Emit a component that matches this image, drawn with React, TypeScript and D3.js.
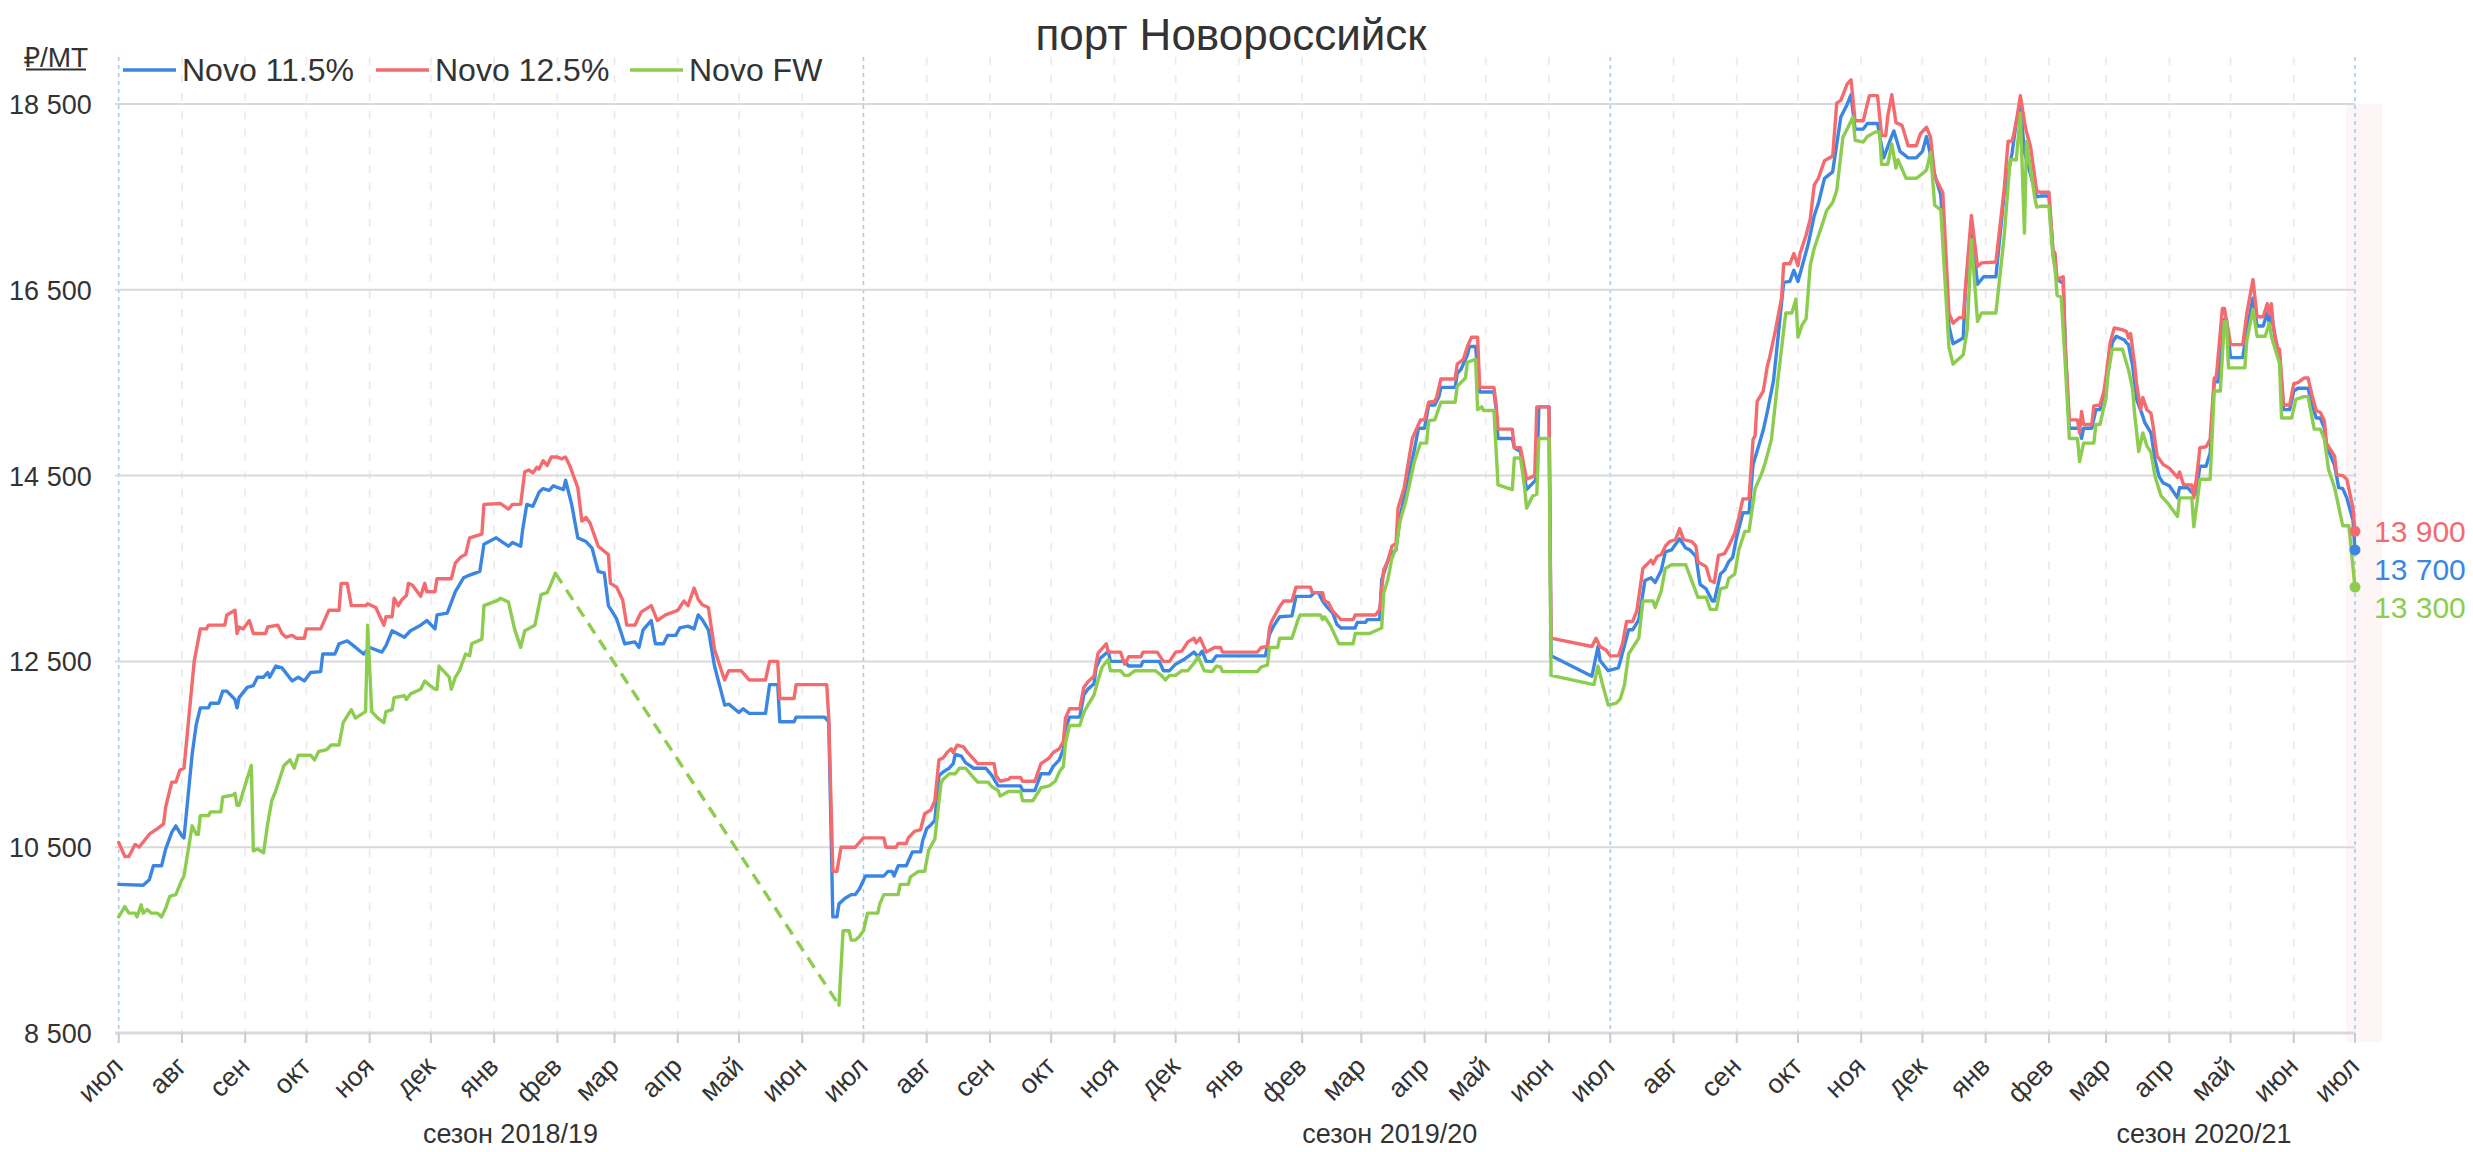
import React from "react";
import * as d3 from "d3";

// ---------- data ----------
const START = new Date(2018, 6, 1);
const END = new Date(2021, 6, 1);

const MONTH_NAMES = ["янв", "фев", "мар", "апр", "май", "июн", "июл", "авг", "сен", "окт", "ноя", "дек"];
const Y_TICKS = [8500, 10500, 12500, 14500, 16500, 18500];
const TITLE = "порт Новороссийск";
const UNIT = "₽/MT";
const SERIES_NAMES = ["Novo 11.5%", "Novo 12.5%", "Novo FW"];
const SERIES_COLORS = ["#3b86e3", "#f36b6e", "#8ccd4f"];
const SEASONS = [
  { label: "сезон 2018/19", date: "2019-01-09" },
  { label: "сезон 2019/20", date: "2020-03-15" },
  { label: "сезон 2020/21", date: "2021-04-18" },
];

// [day offset from 2018-07-01, ₽/MT]
const NOVO_115: [number, number][] = [
  [0,10100],[12,10090],[15,10150],[17,10300],[21,10300],[23,10480],[26,10660],[28,10730],[31,10620],[32,10600],[36,11500],[38,11820],[40,12000],[44,12000],[45,12050],[49,12050],[51,12180],[53,12180],[57,12090],[58,12000],[59,12110],[63,12220],[66,12240],[68,12330],[71,12330],[73,12380],[74,12330],[77,12450],[80,12430],[85,12290],[88,12330],[91,12290],[94,12380],[99,12390],[100,12580],[106,12580],[108,12690],[112,12720],[115,12670],[120,12580],[123,12650],[129,12600],[131,12670],[134,12830],[140,12760],[143,12830],[148,12890],[151,12940],[155,12850],[156,13000],[161,13020],[165,13250],[169,13400],[171,13420],[177,13470],[179,13760],[185,13830],[191,13740],[193,13780],[197,13740],[198,13920],[200,14190],[203,14170],[206,14320],[208,14360],[211,14340],[213,14390],[218,14350],[219,14450],[222,14190],[225,13830],[229,13790],[232,13720],[235,13470],[238,13450],[240,13100],[244,12960],[248,12690],[253,12710],[255,12650],[257,12840],[261,12940],[263,12690],[267,12690],[269,12780],[273,12780],
  [275,12860],[279,12880],[282,12850],[284,13000],[286,12950],[289,12840],[292,12450],[297,12030],[299,12040],[304,11950],[306,11990],[309,11940],[317,11940],[319,12250],[323,12250],[324,11850],[331,11850],[332,11900],[346,11900],[348,11850],[350,9750],[352,9750],[353,9890],[356,9950],[359,9990],[361,9990],[363,10050],[366,10190],[375,10190],[377,10240],[379,10240],[380,10190],[382,10300],[386,10300],[388,10400],[389,10450],[393,10450],[394,10570],[396,10700],[398,10740],[400,10790],[402,11270],[404,11310],[407,11350],[409,11400],[410,11500],[413,11480],[415,11410],[419,11350],[425,11350],[428,11270],[431,11160],[442,11160],[443,11110],[449,11110],[452,11290],[456,11290],[458,11370],[461,11440],[463,11560],[464,11770],[466,11900],[471,11900],[473,12140],[475,12200],[478,12260],[479,12430],[481,12530],[485,12610],[486,12500],[493,12500],[495,12450],[501,12450],[502,12500],[510,12500],[512,12400],[515,12400],[518,12470],[522,12520],[527,12600],[529,12550],[531,12610],
  [533,12500],[536,12500],[538,12560],[562,12560],[564,12790],[566,12880],[569,12980],[575,12990],[577,13200],[584,13200],[586,13240],[588,13240],[590,13150],[592,13090],[595,13020],[597,12900],[599,12860],[606,12860],[607,12920],[611,12920],[612,12950],[618,12950],[619,13380],[623,13650],[626,13700],[628,14060],[632,14470],[635,14780],[637,15010],[640,15010],[642,15260],[645,15260],[647,15350],[648,15450],[655,15450],[656,15600],[658,15650],[661,15800],[662,15890],[665,15890],[667,15400],[674,15400],[675,15230],[676,14900],[683,14900],[684,14800],[687,14760],[690,14350],[694,14440],[695,14490],[696,15240],[701,15240],[702,12560],[722,12340],[725,12660],
  [726,12510],[730,12400],[735,12430],[736,12510],[740,12840],[742,12840],[745,12950],[748,13370],[751,13400],[753,13350],[756,13480],[758,13680],[761,13700],[765,13820],[768,13720],[770,13700],[773,13630],[775,13330],[778,13280],[781,13150],[782,13150],[785,13440],[787,13480],[789,13570],[791,13620],[793,13840],[796,14100],[799,14100],[801,14620],[804,14840],[806,14990],[808,15190],[811,15520],[813,15940],[816,16580],[819,16590],[821,16710],[823,16590],[825,16750],[828,16990],[831,17300],[833,17430],[836,17700],[840,17770],[844,18360],[847,18490],[849,18600],[851,18230],[855,18230],[857,18290],[862,18290],[865,17920],[868,18100],[870,18210],[873,17990],[877,17920],[881,17920],[884,17990],[886,18150],[890,17740],[893,17520],[897,16110],[899,15920],[904,15980],[905,16480],[908,17170],[911,16560],[914,16640],[920,16640],[924,17520],[928,17980],[930,18310],[932,18490],[934,17980],[937,17740],[940,17500],
  [942,17510],[946,17510],[948,16890],[950,16610],[953,16570],[954,15890],[956,15010],[961,15010],[962,14900],[963,15010],[967,15010],[969,15210],[971,15210],[973,15390],[975,15610],[977,15930],[979,16000],[983,15960],[984,15930],[985,15910],[987,15680],[989,15320],[992,15140],[993,15070],[996,14960],[998,14670],[1000,14490],[1002,14420],[1005,14390],[1009,14260],[1010,14370],[1014,14370],[1016,14320],[1018,14300],[1020,14600],[1023,14600],[1025,14740],[1027,15510],[1029,15510],[1032,16180],[1033,16180],[1035,15770],[1041,15770],[1043,16070],[1046,16410],[1048,16110],[1051,16110],[1053,16250],[1054,16140],[1055,16250],[1057,15960],[1059,15780],[1061,15210],[1064,15210],[1066,15410],[1068,15440],[1073,15440],[1075,15260],[1077,15120],[1079,15120],[1081,15010],[1082,14820],[1086,14610],[1088,14370],[1090,14360],[1092,14260],[1095,14020],[1096,13700],
];

const NOVO_125: [number, number][] = [
  [0,10550],[2,10450],[3,10400],[5,10400],[8,10530],[10,10500],[15,10640],[19,10700],[22,10750],[23,10930],[26,11200],[28,11200],[30,11330],[32,11350],[37,12500],[40,12850],[43,12850],[44,12890],[52,12890],[53,13000],[57,13050],[58,12800],[59,12870],[61,12850],[64,12940],[66,12800],[72,12800],[73,12870],[78,12890],[80,12800],[82,12760],[85,12780],[87,12750],[91,12750],[92,12850],[99,12850],[103,13050],[108,13050],[109,13340],[112,13340],[114,13100],[121,13100],[122,13120],[126,13080],[130,12890],[131,12980],[134,12980],[135,13180],[137,13100],[139,13170],[141,13210],[142,13340],[144,13320],[148,13200],[150,13340],[151,13250],[155,13250],[156,13390],[163,13390],[165,13560],[168,13630],[170,13650],[172,13830],[178,13870],[179,14190],[187,14200],[191,14140],[193,14190],[197,14190],[199,14540],[201,14560],[203,14530],[205,14590],[206,14570],[208,14660],[210,14610],[212,14700],[215,14700],[217,14680],[219,14700],[221,14610],[225,14370],[227,14010],[229,14050],[231,13990],[235,13740],[240,13650],[241,13340],[244,13300],[247,13160],[249,12890],[253,12890],[256,13030],[261,13100],[264,12940],[268,13000],[274,13050],
  [277,13150],[279,13100],[282,13290],[284,13170],[286,13110],[289,13080],[292,12630],[296,12360],[297,12300],[299,12400],[305,12400],[309,12300],[317,12300],[319,12500],[323,12500],[324,12100],[331,12100],[332,12250],[347,12250],[348,11890],[350,10240],[352,10240],[354,10500],[361,10500],[365,10600],[375,10600],[376,10500],[381,10500],[382,10540],[386,10540],[387,10600],[390,10670],[393,10690],[395,10860],[398,10900],[400,11000],[402,11440],[404,11460],[406,11520],[408,11560],[409,11520],[411,11600],[414,11580],[416,11520],[421,11400],[429,11400],[430,11270],[432,11210],[436,11230],[437,11250],[442,11250],[443,11210],[449,11210],[452,11400],[456,11460],[458,11520],[461,11560],[463,11640],[464,11890],[466,11990],[471,11990],[473,12220],[475,12280],[478,12340],[479,12470],[480,12590],[484,12690],[485,12600],[491,12600],[493,12470],[495,12550],[501,12550],[502,12600],[509,12600],[512,12500],[515,12500],[518,12600],[521,12610],[524,12710],[527,12750],[528,12700],[530,12750],
  [533,12600],[537,12650],[540,12650],[541,12600],[558,12600],[560,12650],[563,12660],[564,12860],[565,12930],[569,13090],[571,13150],[575,13150],[577,13300],[584,13300],[585,13240],[590,13240],[591,13150],[593,13130],[595,13040],[599,12950],[605,12950],[606,13000],[616,13000],[618,13060],[620,13490],[622,13580],[624,13740],[626,13770],[627,14150],[630,14370],[634,14900],[638,15100],[640,15100],[642,15290],[645,15300],[646,15350],[648,15540],[655,15540],[656,15700],[659,15750],[661,15890],[663,15990],[666,15990],[667,15450],[674,15450],[675,15280],[676,15000],[683,15000],[684,14800],[687,14800],[690,14460],[694,14500],[695,15240],[701,15240],[702,12750],[722,12660],[724,12750],[726,12660],
  [729,12620],[731,12560],[735,12560],[737,12690],[739,12930],[742,12930],[744,13040],[747,13500],[751,13590],[752,13550],[754,13630],[756,13650],[758,13740],[760,13790],[763,13810],[765,13930],[767,13810],[771,13790],[773,13740],[774,13570],[778,13520],[780,13370],[782,13350],[784,13640],[787,13660],[789,13740],[792,13880],[794,14050],[796,14250],[799,14250],[801,14890],[802,14930],[803,15300],[806,15410],[808,15680],[809,15760],[812,16070],[815,16420],[816,16780],[819,16780],[821,16890],[823,16760],[824,16890],[827,17090],[829,17260],[831,17630],[833,17700],[836,17890],[840,17940],[842,18510],[844,18540],[847,18710],[849,18760],[851,18320],[855,18320],[856,18410],[858,18590],[862,18590],[864,18160],[866,18160],[867,18370],[869,18600],[871,18300],[874,18270],[877,18050],[881,18050],[883,18180],[886,18250],[888,18140],[890,17720],[893,17590],[894,17540],[897,16250],[899,16140],[902,16200],[904,16200],[906,16770],[908,17300],[911,16750],[913,16790],[920,16800],[924,17570],[926,18100],[928,18100],[930,18310],[932,18590],[934,18310],[935,18200],[937,18040],[940,17560],
  [942,17550],[946,17550],[948,16930],[949,16890],[950,16600],[951,16620],[953,16640],[954,15890],[956,15100],[960,15100],[961,14960],[962,15190],[963,15050],[967,15050],[968,15250],[971,15260],[973,15410],[974,15570],[976,15930],[978,16090],[982,16070],[984,16050],[985,15980],[986,16030],[988,15700],[989,15480],[991,15210],[992,15340],[994,15210],[996,15170],[997,15040],[999,14710],[1002,14620],[1005,14580],[1009,14480],[1010,14540],[1012,14400],[1016,14400],[1017,14260],[1019,14600],[1020,14800],[1023,14810],[1025,14890],[1027,15550],[1028,15550],[1031,16300],[1032,16300],[1035,15910],[1041,15910],[1043,16250],[1046,16610],[1048,16210],[1051,16210],[1053,16350],[1054,16240],[1055,16350],[1056,16100],[1058,15880],[1059,15860],[1061,15260],[1064,15260],[1066,15490],[1068,15500],[1071,15550],[1073,15550],[1075,15360],[1077,15200],[1079,15180],[1081,15090],[1082,14850],[1086,14710],[1087,14510],[1090,14500],[1092,14460],[1095,14150],[1096,13900],
];

// FW: season 2018/19 part, then (after a gap shown dashed) the rest
const NOVO_FW_A: [number, number][] = [
  [0,9750],[3,9860],[5,9790],[8,9790],[9,9750],[11,9880],[12,9790],[14,9830],[16,9790],[19,9790],[21,9750],[23,9840],[25,9970],[28,9990],[31,10150],[32,10190],[36,10730],[38,10640],[39,10640],[40,10840],[44,10840],[45,10880],[50,10880],[51,11040],[56,11060],[57,11080],[58,10950],[59,10950],[61,11100],[63,11240],[65,11380],[66,10460],[68,10480],[71,10440],[73,10750],[75,11000],[77,11110],[81,11380],[84,11440],[86,11350],[88,11490],[94,11490],[96,11440],[98,11530],[102,11550],[104,11600],[108,11600],[110,11840],[114,11980],[116,11890],[121,11960],[122,12890],[124,11960],[127,11890],[130,11840],[131,11960],[134,11980],[135,12110],[140,12130],[141,12090],[143,12150],[148,12200],[150,12290],[152,12250],[155,12200],[156,12200],[157,12450],[159,12400],[162,12330],[163,12200],[165,12330],[167,12400],[170,12580],[172,12560],[173,12690],[178,12740],[179,13100],[186,13160],[187,13180],[191,13140],[194,12850],[197,12650],[199,12830],[204,12890],[207,13220],[210,13240],[212,13340],[214,13450],
];
const NOVO_FW_B: [number, number][] = [
  [353,8800],[355,9600],[358,9600],[359,9500],[361,9500],[363,9540],[365,9600],[367,9790],[372,9790],[373,9890],[375,9990],[382,9990],[383,10100],[387,10100],[388,10180],[392,10240],[395,10240],[397,10470],[400,10590],[403,11190],[404,11230],[407,11290],[410,11290],[412,11350],[415,11350],[419,11250],[421,11200],[426,11200],[428,11150],[431,11110],[432,11050],[436,11100],[442,11100],[443,11000],[448,11000],[452,11140],[456,11160],[459,11210],[461,11310],[463,11370],[464,11620],[466,11810],[471,11810],[473,11950],[475,12030],[478,12140],[480,12300],[482,12440],[485,12520],[486,12400],[491,12400],[493,12350],[495,12350],[498,12400],[508,12400],[511,12350],[513,12300],[515,12350],[518,12350],[521,12400],[524,12400],[527,12480],[529,12550],[532,12400],[536,12390],[538,12450],[540,12440],[541,12390],[558,12390],[560,12440],[563,12460],[564,12650],[568,12650],[569,12750],[575,12750],[578,12950],[579,13000],[589,13000],[590,12950],[591,12980],[594,12880],[598,12690],[605,12690],[606,12800],[613,12800],[619,12860],[620,13240],[622,13380],[624,13610],[626,13720],[628,14010],[631,14240],[635,14650],[638,14850],[641,14850],[642,15090],[645,15100],[648,15290],[655,15290],[656,15460],[660,15550],[661,15720],[665,15750],[666,15210],[668,15240],[669,15200],[674,15200],[676,14400],[683,14350],[684,14690],[687,14690],[689,14380],[690,14150],[693,14280],[695,14300],[696,14900],[701,14900],[702,12350],[723,12250],[725,12450],
  [727,12270],[729,12110],[730,12030],[734,12050],[736,12100],[738,12250],[740,12580],[745,12750],[747,13150],[752,13150],[753,13080],[756,13260],[758,13500],[761,13540],[768,13540],[774,13190],[778,13190],[780,13060],[783,13060],[785,13280],[788,13300],[789,13390],[792,13440],[794,13700],[797,13900],[799,13900],[802,14360],[805,14510],[807,14640],[810,14890],[813,15500],[817,16250],[820,16250],[822,16400],[823,15990],[825,16120],[827,16190],[829,16760],[831,16950],[835,17210],[837,17350],[840,17440],[842,17570],[845,18140],[848,18270],[850,18360],[851,18110],[855,18090],[857,18150],[861,18200],[863,18200],[864,17850],[867,17850],[869,18070],[871,17810],[872,17900],[876,17700],[881,17700],[884,17750],[886,17790],[888,17980],[890,17410],[893,17360],[897,15880],[899,15700],[904,15800],[906,16080],[908,17040],[911,16160],[913,16250],[920,16250],[924,17060],[927,17900],[930,17900],[932,18400],[934,17110],[935,18100],[939,17500],[940,17390],
  [942,17400],[946,17400],[948,16860],[949,16720],[950,16440],[952,16420],[954,15700],[956,14900],[960,14900],[961,14650],[963,14850],[968,14850],[969,15050],[971,15050],[974,15340],[975,15600],[977,15860],[982,15860],[985,15640],[987,15430],[988,15160],[990,14760],[992,14960],[994,14820],[996,14750],[998,14490],[1001,14280],[1004,14210],[1009,14060],[1010,14260],[1016,14260],[1017,13950],[1019,14280],[1020,14460],[1025,14460],[1027,15410],[1030,15410],[1032,16160],[1033,16160],[1034,15660],[1042,15660],[1043,15960],[1046,16290],[1048,16000],[1052,16000],[1054,16140],[1055,16000],[1058,15780],[1059,15710],[1060,15120],[1065,15120],[1067,15320],[1071,15350],[1073,15350],[1076,15000],[1079,15000],[1081,14890],[1083,14570],[1086,14370],[1090,13960],[1093,13960],[1096,13300],
];

// ---------- layout ----------
const W = 2473;
const H = 1152;
const X0 = 118.7;
const X1 = 2355;
const Y_TOP = 104;
const Y_BOT = 1033;
const FONT = "'Liberation Sans', Arial, Helvetica, sans-serif";
const TEXT = "#333333";

const fmt = (v: number) => d3.format(",")(v).replace(/,/g, " ");

export default function App() {
  const x = d3.scaleTime().domain([START, END]).range([X0, X1]);
  const y = d3.scaleLinear().domain([8500, 18500]).range([Y_BOT, Y_TOP]);
  const dayX = (d: number) => x(d3.timeDay.offset(START, d));

  const line = d3
    .line<[number, number]>()
    .x((d) => dayX(d[0]))
    .y((d) => y(d[1]));

  const months = d3.timeMonth.range(START, d3.timeDay.offset(END, 1));

  const series = [
    { name: SERIES_NAMES[0], color: SERIES_COLORS[0], parts: [NOVO_115] },
    { name: SERIES_NAMES[1], color: SERIES_COLORS[1], parts: [NOVO_125] },
    { name: SERIES_NAMES[2], color: SERIES_COLORS[2], parts: [NOVO_FW_A, NOVO_FW_B] },
  ];

  const gapA = NOVO_FW_A[NOVO_FW_A.length - 1];
  const gapB = NOVO_FW_B[0];

  // end labels with simple collision avoidance
  const ends = series
    .map((s) => {
      const last = s.parts[s.parts.length - 1];
      const p = last[last.length - 1];
      return { color: s.color, value: p[1], day: p[0], cy: y(p[1]) };
    })
    .sort((a, b) => a.cy - b.cy);
  let prev = -Infinity;
  const endLabels = ends.map((e) => {
    const ly = Math.max(e.cy, prev + 38);
    prev = ly;
    return { ...e, ly };
  });

  const legendX = [123, 376, 630];

  return (
    <svg
      width={W}
      height={H}
      style={{ position: "absolute", left: 0, top: 0, background: "#fff" }}
      fontFamily={FONT}
    >
      <rect x={0} y={0} width={W} height={H} fill="#ffffff" />
      {/* current-period band */}
      <rect x={2346} y={Y_TOP} width={36} height={Y_BOT - Y_TOP + 9} fill="#fef5f6" />

      {/* vertical month lines */}
      {months.map((m, i) => {
        const xm = x(m);
        const isJul = m.getMonth() === 6;
        return (
          <line
            key={"v" + i}
            x1={xm}
            x2={xm}
            y1={57}
            y2={1040}
            stroke={isJul ? "#a6cbf3" : "#ececec"}
            strokeWidth={isJul ? 1.6 : 1.8}
            strokeDasharray={isJul ? "4,4" : "8,10"}
          />
        );
      })}

      {/* horizontal grid */}
      {Y_TICKS.map((t) => (
        <line
          key={"h" + t}
          x1={115}
          x2={X1}
          y1={y(t)}
          y2={y(t)}
          stroke="#d9d9d9"
          strokeWidth={t === 8500 ? 3 : 2}
        />
      ))}

      {/* ticks */}
      {months.map((m, i) => (
        <line key={"t" + i} x1={x(m)} x2={x(m)} y1={Y_BOT} y2={Y_BOT + 10} stroke="#cccccc" strokeWidth={2} />
      ))}

      {/* y labels */}
      {Y_TICKS.map((t) => (
        <text key={"yl" + t} x={91.7} y={y(t) + 10} textAnchor="end" fontSize={27} fill={TEXT}>
          {fmt(t)}
        </text>
      ))}

      {/* x labels */}
      {months.map((m, i) => {
        const xm = x(m) + 6;
        const ym = 1068;
        return (
          <text
            key={"xl" + i}
            x={xm}
            y={ym}
            textAnchor="end"
            fontSize={27}
            fill={TEXT}
            transform={`rotate(-45 ${xm} ${ym})`}
          >
            {MONTH_NAMES[m.getMonth()]}
          </text>
        );
      })}

      {/* season labels */}
      {SEASONS.map((s) => (
        <text key={s.label} x={x(new Date(s.date + "T00:00:00"))} y={1143} textAnchor="middle" fontSize={27} fill={TEXT}>
          {s.label}
        </text>
      ))}

      {/* series */}
      {series.map((s) =>
        s.parts.map((p, j) => (
          <path
            key={s.name + j}
            d={line(p) || ""}
            fill="none"
            stroke={s.color}
            strokeWidth={3.4}
            strokeLinejoin="round"
            strokeLinecap="round"
          />
        ))
      )}
      <path
        d={line([gapA, gapB]) || ""}
        fill="none"
        stroke={SERIES_COLORS[2]}
        strokeWidth={3.4}
        strokeDasharray="12,8"
      />

      {/* end markers and labels */}
      {endLabels.map((e) => (
        <g key={"end" + e.color}>
          <circle cx={dayX(e.day)} cy={e.cy} r={5.5} fill={e.color} />
          <text x={2374} y={e.ly + 11} fontSize={30} fill={e.color}>
            {fmt(e.value)}
          </text>
        </g>
      ))}

      {/* title */}
      <text x={1231} y={50} textAnchor="middle" fontSize={44} fill={TEXT}>
        {TITLE}
      </text>

      {/* unit */}
      <text x={56} y={67} textAnchor="middle" fontSize={28} fill={TEXT}>
        {UNIT}
      </text>
      <line x1={26} x2={86} y1={69.5} y2={69.5} stroke={TEXT} strokeWidth={2} />

      {/* legend */}
      {series.map((s, i) => (
        <g key={"lg" + i}>
          <line x1={legendX[i]} x2={legendX[i] + 53} y1={70} y2={70} stroke={s.color} strokeWidth={3.4} />
          <text x={legendX[i] + 59} y={81} fontSize={32} fill={TEXT}>
            {s.name}
          </text>
        </g>
      ))}
    </svg>
  );
}
